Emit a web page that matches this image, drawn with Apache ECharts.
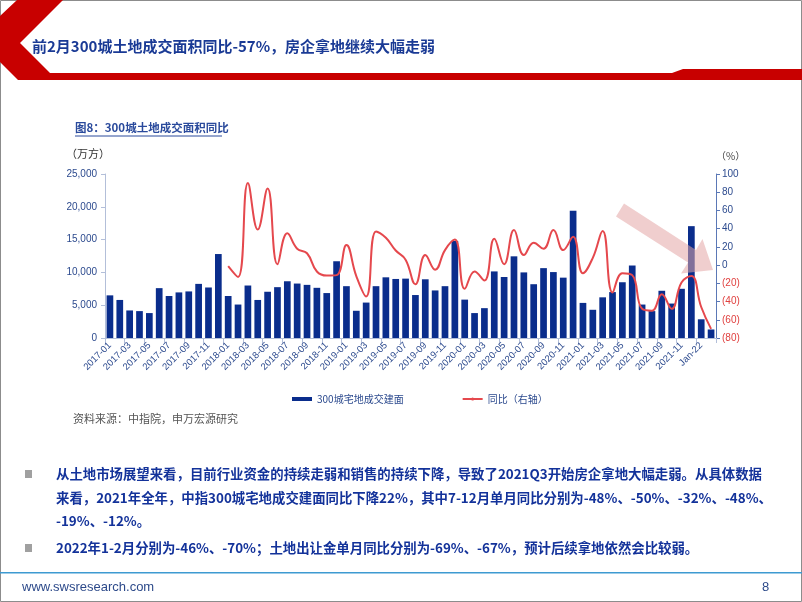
<!DOCTYPE html>
<html>
<head>
<meta charset="utf-8">
<script src="https://cdn.jsdelivr.net/npm/echarts@6/dist/echarts.min.js"></script>
<style>
html,body{margin:0;padding:0;background:#fff;}
#main{width:802px;height:602px;}
</style>
</head>
<body>
<div id="main"></div>
<script>
// ---- data ----
var categories = [
 '2017-01','2017-02','2017-03','2017-04','2017-05','2017-06','2017-07','2017-08','2017-09','2017-10','2017-11','2017-12',
 '2018-01','2018-02','2018-03','2018-04','2018-05','2018-06','2018-07','2018-08','2018-09','2018-10','2018-11','2018-12',
 '2019-01','2019-02','2019-03','2019-04','2019-05','2019-06','2019-07','2019-08','2019-09','2019-10','2019-11','2019-12',
 '2020-01','2020-02','2020-03','2020-04','2020-05','2020-06','2020-07','2020-08','2020-09','2020-10','2020-11','2020-12',
 '2021-01','2021-02','2021-03','2021-04','2021-05','2021-06','2021-07','2021-08','2021-09','2021-10','2021-11','2021-12',
 'Jan-22','Feb-22'
];
var areaValues = [
 6500,5800,4200,4100,3800,7600,6400,6950,7100,8250,7700,12800,
 6400,5100,8000,5800,7050,7750,8650,8300,8100,7650,6850,11700,
 7900,4150,5400,7900,9250,9000,9050,6550,8950,7250,7900,14800,
 5850,3800,4550,10150,9300,12450,10000,8200,10650,10050,9200,19400,
 5350,4300,6200,7000,8500,11050,5100,4100,7200,5250,7500,17050,
 2850,1300
];
var yoyValues = [
 null,null,null,null,null,null,null,null,null,null,null,null,
 -1,-13,90,39,84,1,35,18,13,-7,-11.5,-11,
 22,-12,-34.5,37,30,16,6,-21,11,-5,16.5,28,
 -26,-7,-17,29,1,38.5,11,24.5,18,38.5,16.5,31,
 -9,8,37.5,-30,-9,-11,-48,-50,-32,-48,-19,-12,
 -46,-70
];
var leftTicks = {min:0, max:25000, interval:5000};
var rightTicks = {min:-80, max:100, interval:20};
var seriesNames = ['300城宅地成交建面','同比（右轴）'];

var titleText = '前2月300城土地成交面积同比-57%，房企拿地继续大幅走弱';
var chartTitle = '图8：300城土地成交面积同比';
var sourceText = '资料来源：中指院，申万宏源研究';
var bullet1Lines = [
 '从土地市场展望来看，目前行业资金的持续走弱和销售的持续下降，导致了2021Q3开始房企拿地大幅走弱。从具体数据',
 '来看，2021年全年，中指300城宅地成交建面同比下降22%，其中7-12月单月同比分别为-48%、-50%、-32%、-48%、',
 '-19%、-12%。'
];
var bullet2Lines = ['2022年1-2月分别为-46%、-70%；土地出让金单月同比分别为-69%、-67%，预计后续拿地依然会比较弱。'];

var NAVY = '#0a2d8c';
var RED = '#e5484d';
var AXIS_TXT = '#2c4a8e';
var CJK = '"Noto Sans CJK SC","Liberation Sans",sans-serif';
var LAT = '"Liberation Sans","Noto Sans CJK SC",sans-serif';

var chart = echarts.init(document.getElementById('main'), null, {renderer:'canvas'});

function textEl(x, y, txt, size, color, weight, font, extra){
  var s = {text: txt, x: x, y: y, fill: color, fontSize: size, fontWeight: weight || 'normal',
    fontFamily: font || CJK, textVerticalAlign: 'middle'};
  if (extra) for (var k in extra) s[k] = extra[k];
  return {type:'text', style: s, z: 10};
}

var graphics = [
  {type:'rect', shape:{x:0.5,y:0.5,width:801,height:601}, style:{fill:'none', stroke:'#8c8c8c', lineWidth:1}, z:1},
  {type:'polygon', shape:{points:[[17,0],[63,0],[20,43],[50,73],[672,73],[683,69],[802,69],[802,80],[18,80],[0,62],[0,16]]},
    style:{fill:'#c80000'}, z:2},
  textEl(32, 46, titleText, 15, '#1a3a95', 'bold', CJK),
  textEl(75, 128, chartTitle, 11.5, '#2a4a9c', 'bold', CJK),
  {type:'line', shape:{x1:75,y1:136,x2:222,y2:136}, style:{stroke:'#2a4a9c', lineWidth:1}, z:10},
  textEl(66, 154, '（万方）', 11, '#333', 'normal', CJK),
  textEl(716, 156, '（%）', 10, '#444', 'normal', CJK),
  textEl(73, 419, sourceText, 11, '#555', 'normal', CJK),
  {type:'polygon', shape:{points:[[624,203.5],[696,250],[702.5,239],[713,270],[681,273.5],[688,262.5],[616,216.5]]},
    style:{fill:'rgba(228,165,165,0.55)'}, z:20},
  {type:'rect', shape:{x:25,y:470,width:7,height:8}, style:{fill:'#a0a0a0'}, z:10},
  {type:'rect', shape:{x:25,y:544,width:7,height:8}, style:{fill:'#a0a0a0'}, z:10},
  {type:'rect', shape:{x:0,y:572,width:802,height:1.5}, style:{fill:'#3d9ad1'}, z:10},
  textEl(22, 587, 'www.swsresearch.com', 13, '#2d4a8a', 'normal', LAT),
  textEl(762, 587, '8', 13, '#2d4a8a', 'normal', LAT)
];
bullet1Lines.forEach(function(t, i){ graphics.push(textEl(56, 474 + i*23.5, t, 13.4, '#13329a', 'bold', CJK)); });
bullet2Lines.forEach(function(t, i){ graphics.push(textEl(56, 548 + i*23.5, t, 13.4, '#13329a', 'bold', CJK)); });

var option = {
  animation: false,
  textStyle: {fontFamily: LAT},
  grid: {left: 105, right: 86, top: 174, bottom: 264, containLabel: false},
  legend: {
    left: 287, top: 389, itemGap: 58, itemWidth: 20, itemHeight: 4,
    textStyle: {fontSize: 10, color: '#2c4a8e', fontFamily: CJK},
    data: [{name: seriesNames[0], icon: 'rect'}, {name: seriesNames[1]}]
  },
  xAxis: {
    type: 'category', data: categories,
    axisLine: {lineStyle: {color: '#b3bfd9'}},
    axisTick: {show: true, interval: 1, lineStyle: {color: '#b3bfd9'}},
    axisLabel: {interval: 1, rotate: 45, fontSize: 9.5, color: AXIS_TXT, margin: 6, fontFamily: LAT}
  },
  yAxis: [
    {type: 'value', min: leftTicks.min, max: leftTicks.max, interval: leftTicks.interval,
     axisLine: {show: true, lineStyle: {color: '#b3bfd9'}},
     axisTick: {show: true, length: 4, lineStyle: {color: '#b3bfd9'}},
     splitLine: {show: false},
     axisLabel: {fontSize: 10, color: AXIS_TXT, margin: 8, fontFamily: LAT,
       formatter: function(v){ return v.toLocaleString('en-US'); }}},
    {type: 'value', position: 'right', min: rightTicks.min, max: rightTicks.max, interval: rightTicks.interval,
     axisLine: {show: true, lineStyle: {color: '#5b78b6'}},
     axisTick: {show: true, length: 4, lineStyle: {color: '#5b78b6'}},
     splitLine: {show: false},
     axisLabel: {fontSize: 10, color: AXIS_TXT, margin: 6, fontFamily: LAT,
       formatter: function(v){ return v < 0 ? '{n|(' + Math.abs(v) + ')}' : '' + v; },
       rich: {n: {color: '#e0403f', fontSize: 10, fontFamily: LAT}}}}
  ],
  series: [
    {name: seriesNames[0], type: 'bar', data: areaValues, yAxisIndex: 0,
     barCategoryGap: '32%', itemStyle: {color: NAVY}},
    {name: seriesNames[1], type: 'line', data: yoyValues, yAxisIndex: 1,
     smooth: 0.45, symbol: 'none', connectNulls: false,
     lineStyle: {color: RED, width: 2}, itemStyle: {color: RED}, z: 5}
  ],
  graphic: graphics
};
chart.setOption(option);
</script>
</body>
</html>
